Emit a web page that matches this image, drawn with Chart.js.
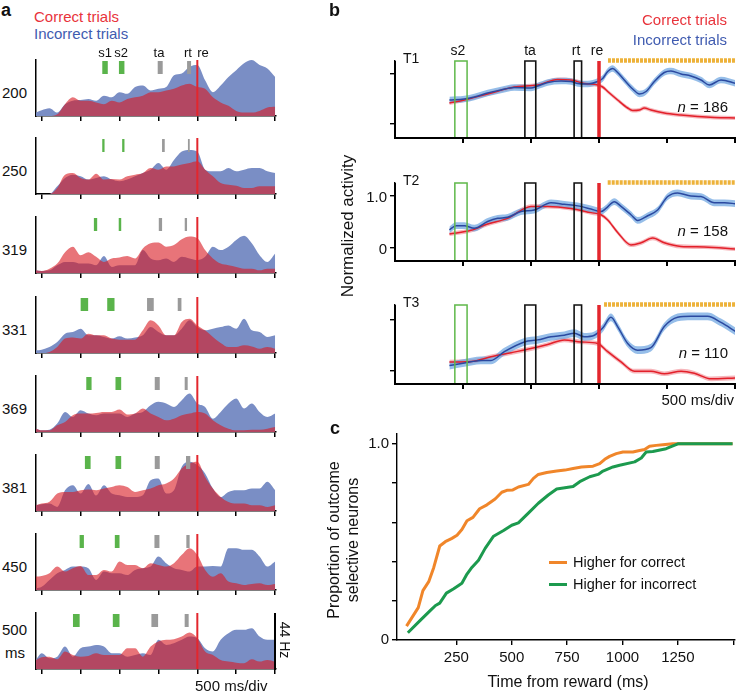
<!DOCTYPE html>
<html><head><meta charset="utf-8">
<script src="https://cdn.jsdelivr.net/npm/chart.js@4.4.1/dist/chart.umd.min.js"></script>
<style>
body{margin:0;width:741px;height:693px;position:relative;background:#fff;overflow:hidden;font-family:Arial,"Liberation Sans",Helvetica,sans-serif}
.t{position:absolute;white-space:nowrap;line-height:1}
canvas{position:absolute}
.bar{position:absolute;background:#000;z-index:5}
</style></head><body>
<script>
// ---------------- DATA ----------------
// Panel a: time grid (ms from reward) and firing rates (Hz) per delay condition
const aDelays = ['200','250','319','331','369','381','450','500'];
const aT = [-2075,-2000,-1900,-1800,-1700,-1600,-1500,-1400,-1300,-1200,-1100,-1000,-900,-800,-700,-600,-500,-400,-300,-200,-100,0,100,200,300,400,500,600,700,800,900,1000];
const aBlue200 = [2.7,4.5,6.1,2.7,9.3,12.0,12.5,13.4,12.0,16.0,14.7,18.7,17.4,22.7,24.0,20.0,21.4,22.7,32.0,33.4,38.7,40.1,28.0,18.7,24.0,30.7,36.0,41.4,44.0,40.1,37.4,30.7];
const aRed200  = [0,0,0,1.3,9.3,14.7,12.0,12.0,10.7,9.3,12.0,10.7,13.4,14.7,16.0,18.7,18.7,20.0,21.4,24.0,25.4,22.7,21.4,14.7,10.7,8.0,4.0,2.7,2.7,4.0,6.7,7.2];
const aBlue250 = [0,0,0,6.0,12.6,15.2,13.9,11.3,12.6,13.9,11.3,10.0,11.3,13.9,16.5,19.1,24.4,19.1,26.7,33.3,34.6,33.3,19.1,17.8,17.8,20.4,17.8,19.1,20.4,20.4,17.8,16.5];
const aRed250  = [0,0,0,4.7,15.2,16.5,12.6,11.3,16.0,11.3,11.8,11.3,13.9,15.2,16.5,20.4,19.1,21.7,21.7,23.1,24.4,25.7,19.1,13.9,8.6,7.3,6.5,4.7,4.7,6.0,6.0,6.0];
const aBlue319 = [2.1,1.6,2.1,6.1,8.7,8.7,7.4,7.4,6.1,13.3,4.8,6.1,6.1,6.1,18.0,11.4,10.1,11.4,8.7,12.7,11.4,10.1,12.7,20.7,18.0,20.7,26.0,29.2,23.3,14.0,8.7,15.4];
const aRed319  = [2.1,1.6,3.4,7.4,16.4,20.7,14.0,16.4,12.7,8.7,11.4,12.2,13.3,11.4,19.3,23.3,23.9,20.7,22.0,26.5,28.6,27.3,18.0,11.4,7.4,6.1,4.8,3.4,3.4,2.1,3.4,3.4];
const aBlue331 = [2.1,2.6,4.7,8.6,15.2,16.5,19.1,13.9,13.9,12.6,11.3,13.1,11.3,12.1,13.9,20.4,16.5,13.9,13.9,19.1,25.7,20.4,17.8,19.1,20.4,21.7,19.1,27.0,17.8,16.5,12.6,13.9];
const aRed331  = [0,0,0.8,4.7,11.3,12.1,11.3,15.2,13.9,13.9,11.3,10.5,10.5,10.5,17.8,25.7,21.7,13.9,13.9,24.4,27.0,21.7,17.8,12.6,7.9,4.7,4.7,6.0,5.2,3.4,4.7,3.4];
const aBlue369 = [2.6,1.3,1.8,6.6,15.8,11.8,17.1,14.5,13.2,14.5,14.5,14.5,11.8,14.5,15.8,21.0,23.7,22.4,19.7,25.0,30.2,22.4,19.7,10.5,15.8,22.4,26.3,18.4,22.4,15.8,11.8,14.5];
const aRed369  = [2.6,1.3,1.3,5.3,7.9,13.2,14.5,14.5,15.0,15.8,15.8,17.6,13.8,14.5,18.4,14.5,11.8,9.2,10.5,13.2,14.5,15.8,14.5,9.2,5.3,2.6,1.3,1.3,1.8,1.8,2.6,3.9];
const aBlue381 = [4.5,5.3,5.8,3.2,16.3,20.2,13.7,21.3,12.1,20.2,13.7,12.4,11.0,11.0,12.4,24.2,25.5,13.7,16.3,34.7,38.7,36.1,29.5,17.6,11.0,15.0,16.3,16.3,17.6,17.6,22.9,16.3];
const aRed381  = [4.5,5.8,7.2,13.7,15.0,15.0,16.3,16.8,16.3,17.6,18.9,20.2,18.9,15.0,16.3,17.6,20.2,21.6,25.5,33.4,37.3,38.7,26.8,17.6,11.0,7.1,5.8,5.8,4.5,4.5,3.2,4.5];
const aBlue450 = [1.3,2.6,7.9,13.2,15.8,18.4,18.4,17.1,7.9,14.5,13.2,13.2,11.8,15.8,17.1,18.4,26.3,21.0,17.1,15.8,14.5,18.4,18.4,18.9,18.4,32.9,32.9,31.6,31.6,26.3,18.4,22.4];
const aRed450  = [10.5,11.0,13.2,18.4,14.5,17.1,18.9,11.8,11.8,15.8,14.5,22.4,19.7,19.7,17.1,21.0,19.7,18.4,21.0,27.6,32.9,27.6,15.8,10.5,13.2,6.6,5.3,3.9,4.7,5.3,3.9,4.7];
const aBlue500 = [7.1,12.4,8.4,9.7,17.6,9.7,16.3,17.6,18.9,17.6,12.4,12.4,9.7,11.0,12.4,11.0,22.9,18.9,20.2,22.9,25.5,24.2,16.3,13.7,22.9,28.1,30.8,30.8,32.1,25.5,22.9,22.9];
const aRed500  = [7.1,9.2,9.7,7.6,13.7,11.0,9.7,10.3,12.4,11.0,11.0,11.0,16.3,16.3,9.7,17.6,21.6,22.9,23.4,25.5,28.7,24.2,13.7,11.0,7.1,5.8,5.0,4.5,7.6,5.8,7.1,5.8];
const aBlue = [aBlue200,aBlue250,aBlue319,aBlue331,aBlue369,aBlue381,aBlue450,aBlue500];
const aRed  = [aRed200,aRed250,aRed319,aRed331,aRed369,aRed381,aRed450,aRed500];
// event times (ms from reward): s1, s2, ta, rt
const aEvents = [
  [-1186,-972,-477,-106],[-1207,-951,-436,-109],[-1308,-994,-474,-147],[-1451,-1111,-603,-228],
  [-1393,-1015,-515,-143],[-1408,-1015,-515,-118],[-1485,-1030,-519,-120],[-1555,-1043,-547,-137]];
const aTicks = [-2000,-1500,-1000,-500,0,500,1000];

// Panel b: normalized activity
const bNames = ['T1','T2','T3'];
const bN = [186,158,110];
const bT1BlueT = [-1100,-990,-917,-819,-721,-623,-500,-451,-377,-279,-206,-157,-83,-10,27,64,100,137,186,248,297,346,407,480,529,603,676,750,811,897,1007];
const bT1Blue  = [0.48,0.50,0.54,0.62,0.68,0.73,0.72,0.76,0.83,0.86,0.85,0.81,0.80,0.85,0.91,1.05,1.11,1.03,0.88,0.70,0.60,0.65,0.85,1.03,1.06,1.00,0.96,0.88,0.78,0.88,0.81];
const bT1RedT  = [-1100,-990,-819,-623,-451,-304,-206,-108,-10,27,64,137,211,248,297,333,382,480,603,725,848,1007];
const bT1Red   = [0.42,0.48,0.60,0.74,0.78,0.89,0.88,0.81,0.78,0.74,0.65,0.48,0.32,0.27,0.28,0.32,0.28,0.22,0.18,0.15,0.13,0.12];
const bT2BlueT = [-1100,-1051,-990,-917,-819,-745,-672,-574,-476,-353,-255,-157,-59,15,51,113,162,235,284,358,431,505,578,676,750,848,922,1007];
const bT2Blue  = [0.35,0.43,0.43,0.38,0.51,0.57,0.59,0.70,0.73,0.87,0.84,0.81,0.75,0.70,0.76,0.89,0.80,0.64,0.53,0.62,0.73,0.99,1.06,1.00,0.99,0.87,0.87,0.85];
const bT2RedT  = [-1100,-941,-819,-672,-500,-377,-206,-59,15,64,137,235,309,395,480,603,775,1007];
const bT2Red   = [0.27,0.34,0.46,0.57,0.80,0.80,0.76,0.68,0.64,0.54,0.30,0.06,0.10,0.19,0.10,0.03,0.02,-0.02];
const bT3BlueT = [-1100,-990,-868,-794,-696,-549,-451,-353,-255,-181,-108,-34,27,88,137,211,284,382,480,578,676,799,897,1007];
const bT3Blue  = [0.11,0.16,0.21,0.21,0.38,0.57,0.61,0.67,0.70,0.74,0.67,0.70,0.84,1.05,0.87,0.54,0.41,0.46,0.87,1.05,1.07,1.07,0.95,0.77];
const bT3RedT  = [-1100,-941,-794,-647,-500,-377,-255,-132,-10,64,162,260,382,480,603,701,824,1007];
const bT3Red   = [0.18,0.19,0.28,0.36,0.44,0.52,0.61,0.57,0.54,0.38,0.18,0.0,0.0,-0.05,0.0,-0.04,-0.15,-0.13];
const bBlueT = [bT1BlueT,bT2BlueT,bT3BlueT], bBlue = [bT1Blue,bT2Blue,bT3Blue];
const bRedT  = [bT1RedT,bT2RedT,bT3RedT],   bRed  = [bT1Red,bT2Red,bT3Red];
const bSemBlue = [0.065,0.065,0.075], bSemRed = [0.04,0.04,0.045];
const bBoxS2 = [-1060,-970], bBoxTa = [-545,-465], bBoxRt = [-183,-128];
const bSigStart = [66,64,37], bSigEnd = 1000;
const bTicksX = [-1000,-500,0,500,1000], bTicksY = [0,1];
const bTickLabels = ['0','1.0'];

// Panel c: cumulative proportion of outcome-selective neurons
const cCorrT = [25,78,99,126,148,175,200,230,253,275,298,325,355,388,425,455,478,505,530,575,598,620,658,703,740,777,815,867,897,920,942,972,1002,1047,1077,1100,1122,1152,1182,1227,1497];
const cCorr  = [0.071,0.165,0.252,0.299,0.370,0.479,0.501,0.518,0.534,0.563,0.608,0.625,0.669,0.689,0.719,0.753,0.763,0.765,0.780,0.793,0.824,0.844,0.854,0.861,0.866,0.874,0.882,0.886,0.899,0.921,0.936,0.950,0.958,0.958,0.966,0.971,0.988,0.992,0.995,1.0,1.0];
const cIncT  = [31,88,133,156,175,205,238,275,298,320,350,380,418,463,500,530,575,620,665,703,740,777,807,852,890,912,957,987,1055,1085,1107,1137,1197,1250,1497];
const cInc   = [0.037,0.101,0.151,0.176,0.188,0.239,0.261,0.289,0.336,0.370,0.407,0.467,0.529,0.558,0.585,0.597,0.647,0.697,0.739,0.770,0.776,0.782,0.807,0.832,0.844,0.861,0.882,0.891,0.908,0.928,0.958,0.961,0.975,1.0,1.0];
const cTicksX = [250,500,750,1000,1250,1500];
const cTicksY = [0,0.1,0.2,0.3,0.4,0.5,0.6,0.7,0.8,0.9,1.0];

// ---------------- RENDER ----------------
const FONT = 'Arial, "Liberation Sans", Helvetica, sans-serif';
Chart.defaults.font.family = FONT;
Chart.defaults.color = '#111';
Chart.defaults.animation = false;
Chart.defaults.events = [];
Chart.defaults.plugins.legend.display = false;
Chart.defaults.plugins.tooltip.enabled = false;
Chart.defaults.elements.point.radius = 0;
Chart.defaults.elements.point.hoverRadius = 0;

function mk(l,t,w,h){const c=document.createElement('canvas');c.width=w;c.height=h;
  c.style.left=l+'px';c.style.top=t+'px';c.style.width=w+'px';c.style.height=h+'px';
  document.body.appendChild(c);return c;}
function txt(s,x,y,o={}){const d=document.createElement('div');d.className='t';d.innerHTML=s;
  d.style.left=x+'px';d.style.top=y+'px';d.style.fontSize=(o.size||14)+'px';d.style.color=o.color||'#111';
  if(o.bold)d.style.fontWeight='bold';
  const ax=o.align==='right'?'-100%':o.align==='center'?'-50%':'0';
  d.style.transform=o.rot?`translate(-50%,-50%) rotate(${o.rot}deg)`:`translate(${ax},-50%)`;
  document.body.appendChild(d);return d;}
function bar(l,t,w,h){const d=document.createElement('div');d.className='bar';
  d.style.left=l+'px';d.style.top=t+'px';d.style.width=w+'px';d.style.height=h+'px';document.body.appendChild(d);}
const pts=(ts,vs)=>ts.map((t,k)=>({x:t,y:vs[k]}));
const seg=(x1,y1,x2,y2)=>[{x:x1,y:y1},{x:x2,y:y2}];
const setTicks=arr=>s=>{s.ticks=arr.map(v=>({value:v}));};

const RED='#e3262d', REDTXT='#e8333b', BLUETXT='#3f5bb0';

// ---- Panel a ----
const aTop=[60,138,217,297,376,455,534,613];
const aMarkW=[[5.5,5.5,5,4],[2.3,2.3,2.7,1.8],[3.3,2.5,3.3,2.3],[7.5,7.3,6.7,3.7],[5.3,5.7,5,3],[5.7,5.7,5,4.3],[4.3,4.7,5,3.3],[6.7,6.7,6.7,4]];
aDelays.forEach((lab,i)=>{
  const c=mk(30,aTop[i]-4,250,67);
  const ev=aEvents[i], w=aMarkW[i];
  const ds=[{data:seg(0,0,0,44),borderColor:RED,borderWidth:2,borderCapStyle:'butt'}];
  ev.forEach((t,j)=>ds.push({data:seg(t,33,t,43.2),borderColor:j<2?'#5ab44b':'#9a9a9a',borderWidth:w[j],borderCapStyle:'butt'}));
  ds.push({data:pts(aT,aRed[i]),fill:'origin',backgroundColor:'rgba(216,24,32,0.6)',borderColor:'transparent',borderWidth:0,cubicInterpolationMode:'monotone'});
  ds.push({data:pts(aT,aBlue[i]),fill:'origin',backgroundColor:'#7a8ec5',borderColor:'transparent',borderWidth:0,cubicInterpolationMode:'monotone'});
  new Chart(c,{type:'line',data:{datasets:ds},options:{responsive:false,devicePixelRatio:1,
    layout:{padding:{top:4,right:4,left:0,bottom:0}},
    scales:{
      x:{type:'linear',min:-2073,max:1011,afterBuildTicks:setTicks(aTicks),ticks:{display:false},
         grid:{drawOnChartArea:false,drawTicks:true,tickLength:5,color:'#000',lineWidth:1.5},
         border:{display:true,color:'#000',width:1.5},afterFit:s=>{s.height=7;}},
      y:{min:0,max:44,ticks:{display:false},grid:{display:false},border:{display:true,color:'#000',width:1.5},afterFit:s=>{s.width=6;}}
    }}});
  if(i<7) txt(lab,27,aTop[i]+32,{size:15,align:'right'});
});
txt('500',27,629,{size:15,align:'right'});
txt('ms',25,652,{size:15,align:'right'});
bar(274,613,1.6,57);
txt('44 Hz',285,640,{size:14,rot:90});
txt('500 ms/div',195,685,{size:15});
txt('a',1,10,{size:18,bold:true});
txt('Correct trials',34,16,{size:15,color:REDTXT});
txt('Incorrect trials',34,33,{size:15,color:BLUETXT});
[['s1',105],['s2',121],['ta',159],['rt',188],['re',203]].forEach(([s,x])=>txt(s,x,52,{size:13,align:'center'}));

// ---- Panel b ----
const bTop=[61,183,305], bBot=[138,261,384];
const bY=[[-0.28,1.26],[-0.25,1.25],[-0.25,1.29]];
const bCharts=[];
bNames.forEach((nm,i)=>{
  const H=bBot[i]-bTop[i];
  const cTop=bTop[i]-10;
  const c=mk(350,cTop,391,10+H+20);
  const [y0,y1]=bY[i];
  const box=(r)=>[{x:r[0],y:y0},{x:r[0],y:y1},{x:r[1],y:y1},{x:r[1],y:y0},{x:r[0],y:y0}];
  const bv=bBlue[i], rv=bRed[i];
  const ds=[
    {data:seg(0,y0,0,y1),borderColor:RED,borderWidth:3.5,borderCapStyle:'butt',clip:false},
    {data:box(bBoxS2),borderColor:'#5fb84a',borderWidth:1.5,clip:false},
    {data:box(bBoxTa),borderColor:'#111',borderWidth:1.6,clip:false},
    {data:box(bBoxRt),borderColor:'#111',borderWidth:1.6,clip:false},
    {data:seg(bSigStart[i],y1+0.01,bSigEnd,y1+0.01),borderColor:'#edb23a',borderWidth:4.5,borderCapStyle:'butt',borderDash:[3,1],clip:false},
    {data:pts(bBlueT[i],bv),borderColor:'#2b49a0',borderWidth:1.5,cubicInterpolationMode:'monotone'},
    {data:pts(bRedT[i],rv),borderColor:'#e3202a',borderWidth:1.5,cubicInterpolationMode:'monotone'},
    {data:pts(bBlueT[i],bv.map(v=>v+bSemBlue[i])),fill:'+1',backgroundColor:'rgba(110,165,225,0.72)',borderColor:'transparent',borderWidth:0,cubicInterpolationMode:'monotone'},
    {data:pts(bBlueT[i],bv.map(v=>v-bSemBlue[i])),borderColor:'transparent',borderWidth:0,cubicInterpolationMode:'monotone'},
    {data:pts(bRedT[i],rv.map(v=>v+bSemRed[i])),fill:'+1',backgroundColor:'rgba(238,110,120,0.5)',borderColor:'transparent',borderWidth:0,cubicInterpolationMode:'monotone'},
    {data:pts(bRedT[i],rv.map(v=>v-bSemRed[i])),borderColor:'transparent',borderWidth:0,cubicInterpolationMode:'monotone'},
    // baseline of the plot (x axis line) drawn through the scales
    {data:seg(-1500,y0,1000,y0),borderColor:'#000',borderWidth:1.4,clip:false}
  ];
  const ch=new Chart(c,{type:'line',data:{datasets:ds},options:{responsive:false,devicePixelRatio:1,
    layout:{padding:{top:10,right:6,left:0,bottom:0}},
    scales:{
      x:{type:'linear',min:-1500,max:1000,afterBuildTicks:setTicks(bTicksX),ticks:{display:false},
         grid:{drawOnChartArea:false,drawTicks:true,tickLength:4,color:'#000',lineWidth:1.4},border:{display:true,color:'#000',width:1.4},afterFit:s=>{s.height=20;}},
      y:{min:y0,max:y1,afterBuildTicks:setTicks(bTicksY),ticks:{display:false},
         grid:{drawOnChartArea:false,drawTicks:true,tickLength:5,color:'#000',lineWidth:1.4},border:{display:true,color:'#000',width:1.4},afterFit:s=>{s.width=45;}}
    }}});
  bCharts.push([ch,cTop]);
  if(i===1){
    const ys=ch.scales.y;
    bTicksY.forEach((v,k)=>txt(bTickLabels[k],387,cTop+ys.getPixelForValue(v),{size:15,align:'right'}));
  }
  txt(nm,403,bTop[i]-3,{size:14});
  txt('<i>n</i> = '+bN[i],728,[106,230,352][i],{size:15,align:'right'});
});
// bottom axis line and tick marks for panel b, positioned from each chart's x scale
bCharts.forEach(([ch,cTop])=>{
  const a=ch.chartArea, xs=ch.scales.x, yb=cTop+a.bottom;
  bar(350+a.left-0.7, yb-0.7, a.right-a.left+1.4, 1.4);
  bTicksX.forEach(v=>bar(350+xs.getPixelForValue(v)-0.7, yb, 1.4, 4.5));
  bar(350+a.left-0.7, cTop+a.top, 1.4, a.bottom-a.top);
});
txt('b',329,10,{size:18,bold:true});
txt('Correct trials',727,19,{size:15,color:REDTXT,align:'right'});
txt('Incorrect trials',727,39,{size:15,color:BLUETXT,align:'right'});
[['s2',458],['ta',530],['rt',576],['re',597]].forEach(([s,x])=>txt(s,x,50,{size:14,align:'center'}));
txt('500 ms/div',734,399,{size:15,align:'right'});
txt('Normalized activity',347,226,{size:17,rot:-90});

// ---- Panel c ----
(function(){
  const c=mk(320,422,421,271);
  new Chart(c,{type:'line',data:{datasets:[
      {data:pts(cIncT,cInc),borderColor:'#1c9a4e',borderWidth:3,borderJoinStyle:'round',tension:0},
      {data:pts(cCorrT,cCorr),borderColor:'#f0862a',borderWidth:3,borderJoinStyle:'round',tension:0}
    ]},options:{responsive:false,devicePixelRatio:1,
    layout:{padding:{top:10,right:6,left:0,bottom:0}},
    scales:{
      x:{type:'linear',min:-18,max:1508,afterBuildTicks:setTicks(cTicksX),
         ticks:{font:{size:15},padding:4,color:'#111',callback:v=>v===1500?'':String(v)},
         grid:{drawOnChartArea:false,tickLength:5,color:'#000',lineWidth:1.4},border:{color:'#000',width:1.4},afterFit:s=>{s.height=53;}},
      y:{min:0,max:1.05,afterBuildTicks:setTicks(cTicksY),
         ticks:{font:{size:15},padding:3,color:'#111',callback:v=>v===0?'0':(v===0.5?'0.5':(v===1?'1.0':''))},
         grid:{drawOnChartArea:false,tickLength:5,color:'#000',lineWidth:1.4},border:{color:'#000',width:1.4},afterFit:s=>{s.width=77;}}
    }}});
})();
txt('c',330,428,{size:18,bold:true});
txt('Proportion of outcome',334,540,{size:16,rot:-90});
txt('selective neurons',353,540,{size:16,rot:-90});
txt('Time from reward (ms)',568,682,{size:16,align:'center'});
[['Higher for correct','#f0862a',562],['Higher for incorrect','#1c9a4e',584]].forEach(([s,col,y])=>{
  const l=document.createElement('div');l.style.cssText=`position:absolute;left:549px;top:${y-1.5}px;width:18px;height:3px;background:${col}`;document.body.appendChild(l);
  txt(s,573,y,{size:14.5});
});
</script>
</body></html>
